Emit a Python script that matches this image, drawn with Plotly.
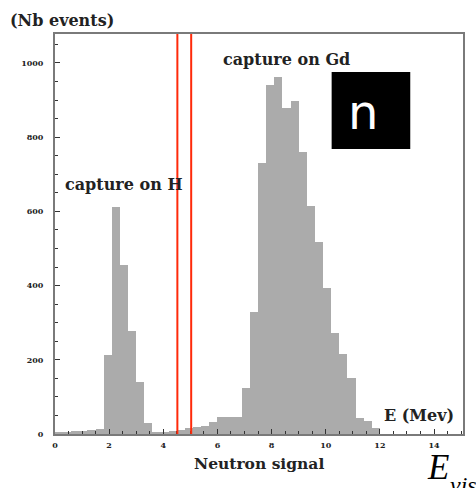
import plotly.graph_objects as go

# ---- data ----
bin_width = 0.3  # MeV
bin_centers = [round(0.15 + 0.3 * k, 2) for k in range(50)]
counts = [
    5, 6, 7, 8, 12, 14,            # 0.0 - 1.8
    213, 613, 455, 278, 141, 30,   # 1.8 - 3.6  (capture on H)
    3, 5, 8, 12, 16, 20, 22, 33,   # 3.6 - 6.0
    47, 45, 45,                    # 6.0 - 6.9
    123, 330, 730, 941, 963, 878, 898, 761, 615, 518, 393, 271, 216, 150,  # 6.9 - 11.1
    42, 35, 15,                    # 11.1 - 12.0
    0, 0, 0, 0, 0, 0, 0, 0, 0, 0,  # 12.0 - 15.0
]
cut_lines = [4.52, 5.03]
x_ticks = [0, 2, 4, 6, 8, 10, 12, 14]
y_ticks = [0, 200, 400, 600, 800, 1000]

# ---- layout geometry ----
W, H = 476, 488
L, R, T, B = 55, 11, 34, 54
PW, PH = W - L - R, H - T - B


def px(x):
    return (x - L) / PW


def py(y):
    return (H - B - y) / PH


SERIF = "DejaVu Serif"
TIMES = "Liberation Serif"

fig = go.Figure()
fig.add_trace(go.Bar(
    x=bin_centers, y=counts, width=bin_width,
    marker=dict(color="#ababab", line=dict(width=0)),
    hoverinfo="x+y",
))

axis_common = dict(
    showline=True, mirror=True, linecolor="#7a7a7a", linewidth=2,
    ticks="inside", tickcolor="#333", showgrid=False, zeroline=False,
    tickfont=dict(family=SERIF, size=8, color="#222"),
)
fig.update_xaxes(
    range=[0, 15.07], tickvals=x_ticks, ticktext=[f"<b>{v}</b>" for v in x_ticks],
    ticklen=5, tickwidth=1,
    minor=dict(dtick=0.5, ticks="inside", ticklen=3, tickcolor="#333"),
    ticklabelstandoff=2,
    **axis_common,
)
fig.update_yaxes(
    range=[0, 1078], tickvals=y_ticks, ticktext=[f"<b>{v}</b>" for v in y_ticks],
    ticklen=5, tickwidth=1,
    minor=dict(dtick=50, ticks="inside", ticklen=3, tickcolor="#333"),
    ticklabelstandoff=8,
    **axis_common,
)

shapes = []
for xc in cut_lines:
    shapes.append(dict(type="line", xref="x", yref="paper", x0=xc, x1=xc, y0=0, y1=1,
                       line=dict(color="#ff2a0a", width=2)))
shapes.append(dict(type="rect", xref="paper", yref="paper",
                   x0=px(333), x1=px(412), y0=py(149), y1=py(72),
                   fillcolor="black", line=dict(width=0)))

anns = []


def txt(s, x, y, size, family=SERIF, color="#222", xanchor="center", yanchor="middle"):
    anns.append(dict(text=s, x=px(x), y=py(y), xref="paper", yref="paper",
                     showarrow=False, xanchor=xanchor, yanchor=yanchor,
                     font=dict(family=family, size=size, color=color)))


txt("<b>(Nb events)</b>", 8, 20, 16, xanchor="left")
txt("<b>capture on Gd</b>", 288, 59, 16)
txt("<b>capture on H</b>", 124, 184, 16)
txt("<b>Neutron signal</b>", 260, 463, 15.5)
txt("<b>E (Mev)</b>", 421, 415, 16)
txt("n", 365, 112, 48, family="DejaVu Sans", color="white")
txt("<i>E</i>", 427, 467, 35, family=TIMES, color="black", xanchor="left")
txt("<i>vis</i>", 450, 485, 24, family=TIMES, color="black", xanchor="left")

fig.update_layout(
    width=W, height=H, margin=dict(l=L, r=R, t=T, b=B),
    paper_bgcolor="white", plot_bgcolor="white",
    bargap=0, showlegend=False,
    shapes=shapes, annotations=anns,
)

fig.write_html("out.html")
